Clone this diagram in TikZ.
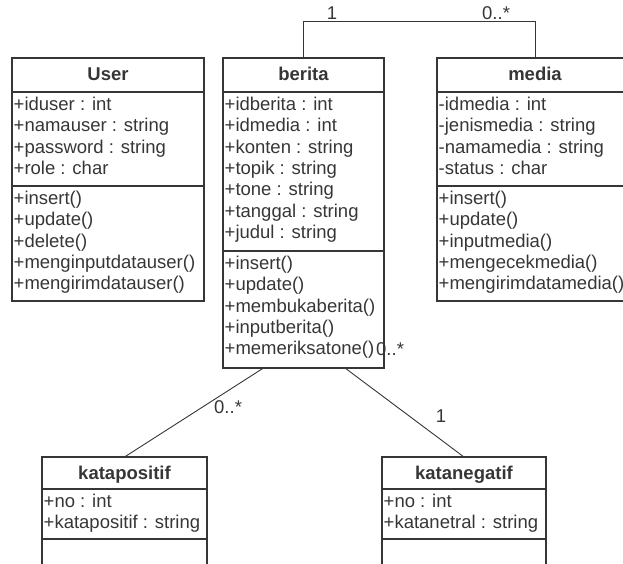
\documentclass[tikz,border=0pt]{standalone}
\usepackage{fontspec}
\setmainfont{Liberation Sans}
\definecolor{ink}{HTML}{363636}
\begin{document}
\begin{tikzpicture}[x=1pt,y=-1pt,
  classbox/.style={draw=ink, line width=1.1pt, rectangle, inner sep=0pt, outer sep=0pt},
  divider/.style={draw=ink, line width=1.1pt},
  member/.style={anchor=base west, inner sep=0pt, text=ink, font=\fontsize{18.5}{21}\selectfont},
  classname/.style={anchor=base, inner sep=0pt, text=ink, font=\fontsize{18.5}{21}\selectfont\bfseries},
  assoc/.style={draw=ink, line width=0.9pt},
  mult/.style={anchor=base west, inner sep=0pt, text=ink, font=\fontsize{18.5}{21}\selectfont}]
\useasboundingbox (0,0) rectangle (623,564);

% class frames
\node[classbox, minimum width=192pt, minimum height=243pt] (user) at (108,179.5) {};
\node[classbox, minimum width=161pt, minimum height=310pt] (berita) at (303.5,213) {};
\node[classbox, minimum width=196pt, minimum height=243pt] (media) at (535,179.5) {};
\node[classbox, minimum width=165pt, minimum height=123pt] (kpos) at (124.5,518.5) {};
\node[classbox, minimum width=164pt, minimum height=123pt] (kneg) at (464,518.5) {};

% compartment dividers
\draw[divider] (user.west |- 0,92) -- (user.east |- 0,92);
\draw[divider] (user.west |- 0,186) -- (user.east |- 0,186);
\draw[divider] (berita.west |- 0,92) -- (berita.east |- 0,92);
\draw[divider] (berita.west |- 0,251) -- (berita.east |- 0,251);
\draw[divider] (media.west |- 0,92) -- (media.east |- 0,92);
\draw[divider] (media.west |- 0,186) -- (media.east |- 0,186);
\draw[divider] (kpos.west |- 0,489) -- (kpos.east |- 0,489);
\draw[divider] (kpos.west |- 0,539) -- (kpos.east |- 0,539);
\draw[divider] (kneg.west |- 0,489) -- (kneg.east |- 0,489);
\draw[divider] (kneg.west |- 0,539) -- (kneg.east |- 0,539);

% class names
\node[classname] (user-t) at (108,81) {User};
\node[classname] (berita-t) at (303.5,81) {berita};
\node[classname] (media-t) at (535,81) {media};
\node[classname] (kpos-t) at (124.5,479) {katapositif};
\node[classname] (kneg-t) at (464,479) {katanegatif};

% User
\foreach \t [count=\i from 0] in {+iduser : int, +namauser : string, +password : string, +role : char}
  \node[member] (user-a\i) at (13.5,110.5+21.3*\i) {\t};
\foreach \t [count=\i from 0] in {+insert(), +update(), +delete(), +menginputdatauser(), +mengirimdatauser()}
  \node[member] (user-m\i) at (13.5,204.5+21.3*\i) {\t};

% berita
\foreach \t [count=\i from 0] in {+idberita : int, +idmedia : int, +konten : string, +topik : string, +tone : string, +tanggal : string, +judul : string}
  \node[member] (berita-a\i) at (224.5,110.5+21.3*\i) {\t};
\foreach \t [count=\i from 0] in {+insert(), +update(), +membukaberita(), +inputberita(), +memeriksatone()}
  \node[member] (berita-m\i) at (224.5,269.5+21.3*\i) {\t};

% media
\foreach \t [count=\i from 0] in {-idmedia : int, -jenismedia : string, -namamedia : string, -status : char}
  \node[member] (media-a\i) at (438.5,110.5+21.3*\i) {\t};
\foreach \t [count=\i from 0] in {+insert(), +update(), +inputmedia(), +mengecekmedia(), +mengirimdatamedia()}
  \node[member] (media-m\i) at (438.5,204.5+21.3*\i) {\t};

% katapositif / katanegatif
\foreach \t [count=\i from 0] in {+no : int, +katapositif : string}
  \node[member] (kpos-a\i) at (43.5,507.5+21.3*\i) {\t};
\foreach \t [count=\i from 0] in {+no : int, +katanetral : string}
  \node[member] (kneg-a\i) at (383.5,507.5+21.3*\i) {\t};

% associations
\coordinate (rail) at (0,21);
\draw[assoc] (berita.north) -- (berita.north |- rail) -- (media.north |- rail) -- (media.north);
\draw[assoc] ([xshift=-40pt]berita.south) -- (kpos.north);
\draw[assoc] ([xshift=41.5pt]berita.south) -- (kneg.north);

% multiplicities
\node[mult, anchor=base] (m-b1) at (332,20) {1};
\node[mult] (m-m0) at (482,20) {0..*};
\node[mult] (m-k0) at (214,413) {0..*};
\node[mult, anchor=base] (m-n1) at (441,422) {1};
\node[mult] (m-b0) at (376,355) {0..*};
\end{tikzpicture}
\end{document}
